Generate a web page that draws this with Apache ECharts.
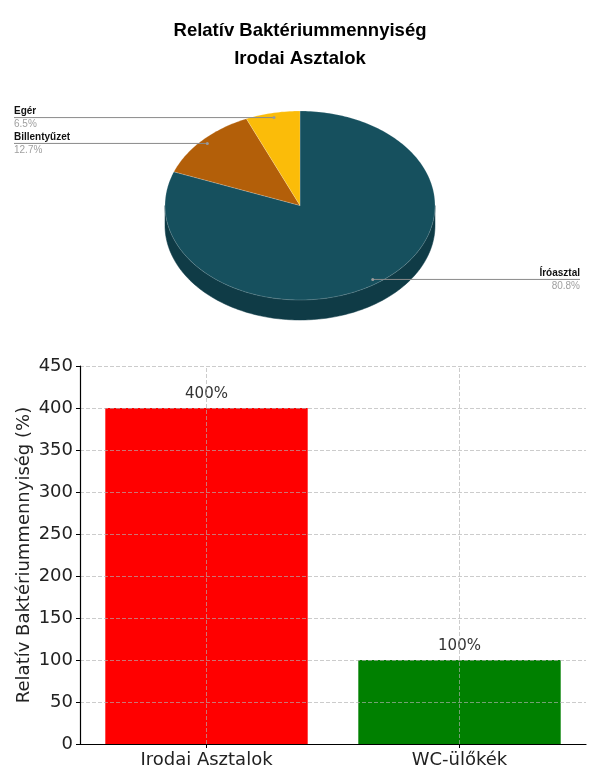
<!DOCTYPE html>
<html>
<head>
<meta charset="utf-8">
<script src="https://cdn.jsdelivr.net/npm/echarts@6/dist/echarts.min.js"></script>
<style>
html,body{margin:0;padding:0;background:#fff;}
#chart{width:600px;height:779px;}
</style>
</head>
<body>
<div id="chart"></div>
<script>
// ---- Data ----
const titleLines = ['Relatív Baktériummennyiség', 'Irodai Asztalok'];
const pieNames = ['Íróasztal', 'Billentyűzet', 'Egér'];
const pieValues = [80.8, 12.7, 6.5];
const barCategories = ['Irodai Asztalok', 'WC-ülőkék'];
const barValues = [400, 100];
const yAxisName = 'Relatív Baktériummennyiség (%)';
const yMin = 0, yMax = 450, yStep = 50;

// ---- Styles ----
const pieTopColors = ['#16505e', '#b35f09', '#fbbc09'];
const pieSideColors = ['#0f3b46', '#7e4306', '#b48607'];
const barColors = ['#ff0000', '#008000'];
const FONT = 'DejaVu Sans';

const chart = echarts.init(document.getElementById('chart'), null, {renderer: 'canvas'});

const pieTotal = pieValues.reduce((a, b) => a + b, 0);
const PIE = {cx: 300, cy: 205.5, rx: 135, ry: 94.5, depth: 20, labelR: 0.95};

function ellPt(t, dy) {
  return [PIE.cx + PIE.rx * Math.sin(t), PIE.cy - PIE.ry * Math.cos(t) + (dy || 0)];
}
function arcPts(a, b, dy) {
  const pts = [];
  const n = Math.max(2, Math.ceil(Math.abs(b - a) / 0.02));
  for (let k = 0; k <= n; k++) pts.push(ellPt(a + (b - a) * k / n, dy));
  return pts;
}

function renderPie(params, api) {
  const i = params.dataIndex;
  let before = 0;
  for (let j = 0; j < i; j++) before += pieValues[j];
  const v = api.value(0);
  const a0 = before / pieTotal * Math.PI * 2;
  const a1 = (before + v) / pieTotal * Math.PI * 2;
  const children = [];
  // side wall (front half only)
  const s0 = Math.max(a0, Math.PI / 2), s1 = Math.min(a1, Math.PI * 1.5);
  if (s1 > s0) {
    const top = arcPts(s0, s1, 0);
    const bot = arcPts(s1, s0, PIE.depth);
    children.push({type: 'polygon', z2: 0, shape: {points: top.concat(bot)},
      style: {fill: pieSideColors[i], stroke: pieSideColors[i], lineWidth: 0.5}});
  }
  // top face
  const topPts = [[PIE.cx, PIE.cy]].concat(arcPts(a0, a1, 0));
  children.push({type: 'polygon', z2: 10, shape: {points: topPts},
    style: {fill: pieTopColors[i], stroke: 'rgba(255,255,255,0.3)', lineWidth: 0.6}});
  // label
  const mid = (a0 + a1) / 2;
  const px = PIE.cx + PIE.rx * PIE.labelR * Math.sin(mid);
  const py = PIE.cy - PIE.ry * PIE.labelR * Math.cos(mid);
  const left = px < PIE.cx;
  const lx = left ? 14 : 580;
  children.push({type: 'polyline', z2: 20, shape: {points: [[lx, py], [px, py]]},
    style: {stroke: '#8a8a8a', lineWidth: 1, fill: null}});
  children.push({type: 'circle', z2: 21, shape: {cx: px, cy: py, r: 1.5},
    style: {fill: '#9a9a9a'}});
  children.push({type: 'text', z2: 22, x: lx, y: py - 6.5,
    style: {text: pieNames[i], fill: '#111', fontSize: 10, fontWeight: 'bold',
      fontFamily: 'Liberation Sans', align: left ? 'left' : 'right', verticalAlign: 'middle'}});
  children.push({type: 'text', z2: 22, x: lx, y: py + 7,
    style: {text: (v / pieTotal * 100).toFixed(1) + '%', fill: '#a0a0a0', fontSize: 10,
      fontFamily: 'Liberation Sans', align: left ? 'left' : 'right', verticalAlign: 'middle'}});
  return {type: 'group', children};
}

const gridLine = {show: true, lineStyle: {color: 'rgba(176,176,176,0.65)', type: [4, 2], width: 1}};

const option = {
  backgroundColor: '#fff',
  animation: false,
  title: {
    text: titleLines.join('\n'),
    left: 'center',
    top: 12,
    textStyle: {fontSize: 18.5, fontWeight: 'bold', fontFamily: 'Liberation Sans', color: '#000', lineHeight: 28}
  },
  grid: {left: 80, right: 14, top: 366, bottom: 35, containLabel: false},
  xAxis: {
    type: 'category',
    data: barCategories,
    z: 3,
    axisLine: {show: true, lineStyle: {color: '#000', width: 1.2}},
    axisTick: {show: true, alignWithLabel: true, length: 4, lineStyle: {color: '#000'}},
    axisLabel: {fontSize: 18, fontFamily: FONT, color: '#222', margin: 7},
    splitLine: {show: false}
  },
  yAxis: {
    type: 'value',
    min: yMin, max: yMax, interval: yStep,
    z: 3,
    name: yAxisName,
    nameLocation: 'middle',
    nameRotate: 90,
    nameGap: 47,
    nameMoveOverlap: false,
    nameTextStyle: {fontSize: 18, fontFamily: FONT, color: '#222'},
    axisLine: {show: true, lineStyle: {color: '#000', width: 1.2}},
    axisTick: {show: true, length: 4, lineStyle: {color: '#000'}},
    axisLabel: {fontSize: 18, fontFamily: FONT, color: '#222', margin: 7},
    splitLine: gridLine
  },
  series: [
    {
      type: 'bar',
      barWidth: '80%',
      z: 2,
      data: barValues.map((v, i) => ({value: v, itemStyle: {color: barColors[i]}})),
      label: {show: true, position: 'top', distance: 6, formatter: p => p.value + '%',
        fontSize: 15, fontFamily: FONT, color: '#333'},
      markLine: {
        silent: true,
        symbol: 'none',
        label: {show: false},
        lineStyle: {color: 'rgba(176,176,176,0.65)', type: [4, 2], width: 1},
        data: barCategories.map(c => ({xAxis: c}))
      }
    },
    {
      type: 'custom',
      coordinateSystem: 'none',
      renderItem: renderPie,
      data: pieValues.map((v, i) => ({value: v, name: pieNames[i]}))
    }
  ]
};
chart.setOption(option);
</script>
</body>
</html>
